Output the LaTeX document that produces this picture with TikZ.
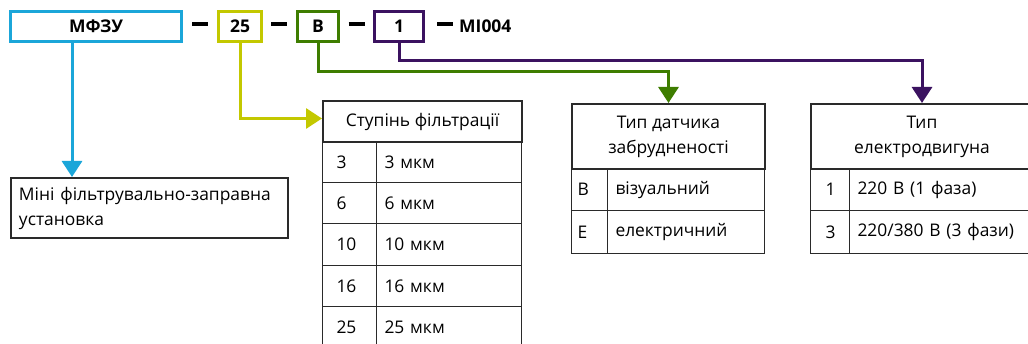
\documentclass[tikz,border=0pt]{standalone}
\usepackage{fontspec}
\setmainfont{Open Sans}
\usetikzlibrary{arrows.meta}

\definecolor{codeblue}{HTML}{1BA6D9}
\definecolor{codeyellow}{HTML}{C3C800}
\definecolor{codegreen}{HTML}{3E7D00}
\definecolor{codepurple}{HTML}{3B1260}
\definecolor{cellline}{HTML}{2A2A2A}

\tikzset{
  codebox/.style={draw, line width=3pt, minimum height=30pt, inner sep=0pt,
    font=\bfseries\fontsize{17.5}{20}\selectfont},
  plain/.style={inner sep=0pt, font=\bfseries\fontsize{17.5}{20}\selectfont},
  link/.style={line width=3pt, -{Triangle[width=20pt,length=16pt]}},
  headcell/.style={draw=cellline, line width=2pt, anchor=north west, inner sep=0pt,
    align=center, font=\fontsize{17.4}{25}\selectfont},
  cell/.style={draw=cellline, line width=1pt, anchor=north west, inner xsep=8pt,
    inner ysep=0pt, align=left, font=\fontsize{17.4}{25}\selectfont},
}

\newcommand{\codedash}{\rule[5pt]{16pt}{3.5pt}}

\begin{document}
\begin{tikzpicture}[x=1pt,y=-1pt]
\useasboundingbox (0,0) rectangle (1028,344);
\clip (0,0) rectangle (1028,344);

% code line
\node[codebox, draw=codeblue, minimum width=171pt] (mfzu) at (96,26.5) {МФЗУ};
\node[plain] (d1) at (200,26.5) {\codedash};
\node[codebox, draw=codeyellow, minimum width=43pt] (n25) at (240,26.5) {25};
\node[plain] (d2) at (279,26.5) {\codedash};
\node[codebox, draw=codegreen, minimum width=41pt] (nB) at (318,26.5) {В};
\node[plain] (d3) at (356.5,26.5) {\codedash};
\node[codebox, draw=codepurple, minimum width=49pt] (n1) at (399,26.5) {1};
\node[plain] (d4) at (445,26.5) {\codedash};
\node[plain, anchor=west] (suffix) at (459,26.5) {МІ004};

% description
\node[draw=cellline, line width=2pt, anchor=north west, minimum width=277pt,
  minimum height=60pt, text width=261pt, inner xsep=8pt, align=left,
  font=\fontsize{17.4}{25}\selectfont] (descr) at (10,177)
  {Міні фільтрувально-заправна\\установка};

% filtration table
\node[headcell, minimum width=199pt, minimum height=41pt] (fhead) at (322,100) {Ступінь фільтрації};
\foreach \k [count=\i from 0] in {3,6,10,16,25} {
  \node[cell, inner xsep=14pt, text width=26pt, minimum height=41.25pt] (fk\i) at (322,141+41.25*\i) {\k};
  \node[cell, text width=129pt, minimum height=41.25pt] (fv\i) at (376,141+41.25*\i) {\k{} мкм};
}

% sensor table
\node[headcell, minimum width=193pt, minimum height=65pt] (shead) at (571,103) {Тип датчика\\забрудненості};
\node[cell, inner xsep=6pt, text width=24pt, minimum height=42.5pt] (sk0) at (571,168) {В};
\node[cell, text width=141pt, minimum height=42.5pt] (sv0) at (607,168) {візуальний};
\node[cell, inner xsep=6pt, text width=24pt, minimum height=42.5pt] (sk1) at (571,210.5) {Е};
\node[cell, text width=141pt, minimum height=42.5pt] (sv1) at (607,210.5) {електричний};

% motor table
\node[headcell, minimum width=222pt, minimum height=65pt] (mhead) at (810,103) {Тип\\електродвигуна};
\node[cell, inner xsep=15pt, text width=9pt, minimum height=42.5pt] (mk0) at (810,168) {1};
\node[cell, text width=167pt, minimum height=42.5pt] (mv0) at (849,168) {220 В (1 фаза)};
\node[cell, inner xsep=15pt, text width=9pt, minimum height=42.5pt] (mk1) at (810,210.5) {3};
\node[cell, text width=167pt, minimum height=42.5pt] (mv1) at (849,210.5) {220/380 В (3 фази)};

% connectors
\draw[link, codeblue] ([xshift=63pt]mfzu.south west) -- ([xshift=63pt]mfzu.south west |- descr.north);
\draw[link, codeyellow] (n25.south) |- ([yshift=3pt]fhead.west);
\draw[link, codegreen] (nB.south) -- ++(0,29) -| (shead.north);
\draw[link, codepurple] (n1.south) -- ++(0,18) -| (mhead.north);
\end{tikzpicture}
\end{document}
